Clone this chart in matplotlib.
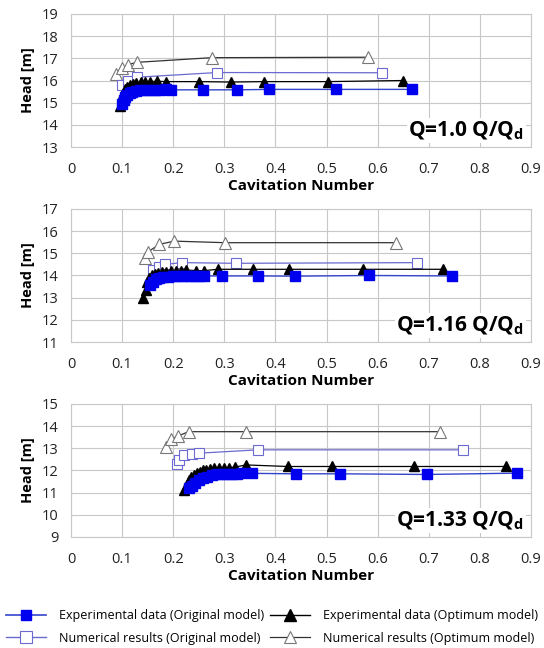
import matplotlib
matplotlib.use("Agg")
import matplotlib.pyplot as plt
from matplotlib.lines import Line2D

plt.rcParams['font.family'] = ['Open Sans', 'DejaVu Sans']
plt.rcParams['mathtext.default'] = 'regular'

# ---------------- data ----------------
panel_labels = ["Q=1.0 Q/Q$_{d}$", "Q=1.16 Q/Q$_{d}$", "Q=1.33 Q/Q$_{d}$"]
y_ranges = [(13, 19), (11, 17), (9, 15)]

# Q = 1.0
exp_orig_x_1 = [0.100, 0.103, 0.106, 0.110, 0.115, 0.120, 0.128, 0.135, 0.145, 0.155, 0.165, 0.175, 0.185, 0.195, 0.259, 0.325, 0.388, 0.518, 0.667]
exp_orig_y_1 = [14.95, 15.10, 15.25, 15.35, 15.42, 15.48, 15.52, 15.55, 15.57, 15.58, 15.58, 15.58, 15.60, 15.58, 15.58, 15.58, 15.60, 15.60, 15.60]
exp_opt_x_1 = [0.096, 0.099, 0.102, 0.106, 0.110, 0.115, 0.121, 0.128, 0.136, 0.145, 0.155, 0.168, 0.185, 0.250, 0.314, 0.377, 0.503, 0.649]
exp_opt_y_1 = [14.85, 15.15, 15.40, 15.60, 15.72, 15.80, 15.85, 15.90, 15.93, 15.95, 15.95, 15.97, 15.95, 15.95, 15.93, 15.95, 15.95, 16.00]
num_orig_x_1 = [0.099, 0.112, 0.130, 0.286, 0.608]
num_orig_y_1 = [15.80, 16.00, 16.15, 16.36, 16.35]
num_opt_x_1 = [0.089, 0.099, 0.112, 0.129, 0.275, 0.581]
num_opt_y_1 = [16.30, 16.55, 16.72, 16.82, 17.03, 17.05]

# Q = 1.16
exp_orig_x_2 = [0.155, 0.160, 0.166, 0.172, 0.180, 0.190, 0.200, 0.210, 0.220, 0.230, 0.240, 0.250, 0.260, 0.295, 0.366, 0.438, 0.583, 0.745]
exp_orig_y_2 = [13.58, 13.72, 13.82, 13.88, 13.92, 13.95, 13.97, 13.98, 13.98, 13.98, 13.98, 13.98, 13.98, 13.98, 13.98, 13.97, 14.00, 13.98]
exp_opt_x_2 = [0.141, 0.146, 0.149, 0.153, 0.158, 0.164, 0.170, 0.178, 0.186, 0.195, 0.205, 0.215, 0.225, 0.245, 0.261, 0.287, 0.357, 0.427, 0.571, 0.727]
exp_opt_y_2 = [12.98, 13.35, 13.70, 13.88, 14.00, 14.07, 14.12, 14.15, 14.18, 14.20, 14.22, 14.22, 14.25, 14.22, 14.22, 14.28, 14.28, 14.28, 14.28, 14.28]
num_orig_x_2 = [0.160, 0.172, 0.183, 0.217, 0.322, 0.676]
num_orig_y_2 = [14.25, 14.40, 14.50, 14.58, 14.55, 14.58]
num_opt_x_2 = [0.144, 0.150, 0.172, 0.202, 0.301, 0.636]
num_opt_y_2 = [14.80, 15.05, 15.40, 15.55, 15.48, 15.48]

# Q = 1.33
exp_orig_x_3 = [0.230, 0.237, 0.243, 0.250, 0.258, 0.266, 0.275, 0.285, 0.295, 0.305, 0.315, 0.325, 0.335, 0.354, 0.440, 0.527, 0.696, 0.873]
exp_orig_y_3 = [11.20, 11.28, 11.42, 11.55, 11.65, 11.72, 11.78, 11.82, 11.85, 11.85, 11.86, 11.86, 11.87, 11.87, 11.85, 11.85, 11.82, 11.88]
exp_opt_x_3 = [0.222, 0.226, 0.230, 0.235, 0.240, 0.246, 0.252, 0.258, 0.265, 0.272, 0.280, 0.290, 0.300, 0.310, 0.320, 0.342, 0.425, 0.510, 0.672, 0.852]
exp_opt_y_3 = [11.13, 11.35, 11.55, 11.70, 11.80, 11.88, 11.95, 12.00, 12.04, 12.07, 12.10, 12.10, 12.12, 12.12, 12.15, 12.25, 12.18, 12.18, 12.18, 12.18]
num_orig_x_3 = [0.207, 0.211, 0.222, 0.237, 0.250, 0.365, 0.766]
num_orig_y_3 = [12.30, 12.48, 12.68, 12.76, 12.78, 12.93, 12.93]
num_opt_x_3 = [0.186, 0.196, 0.209, 0.230, 0.342, 0.721]
num_opt_y_3 = [13.08, 13.40, 13.55, 13.75, 13.75, 13.75]

panels = [
    (exp_orig_x_1, exp_orig_y_1, exp_opt_x_1, exp_opt_y_1, num_orig_x_1, num_orig_y_1, num_opt_x_1, num_opt_y_1),
    (exp_orig_x_2, exp_orig_y_2, exp_opt_x_2, exp_opt_y_2, num_orig_x_2, num_orig_y_2, num_opt_x_2, num_opt_y_2),
    (exp_orig_x_3, exp_orig_y_3, exp_opt_x_3, exp_opt_y_3, num_orig_x_3, num_orig_y_3, num_opt_x_3, num_opt_y_3),
]

legend_labels = ["Experimental data (Original model)", "Experimental data (Optimum model)",
                 "Numerical results (Original model)", "Numerical results (Optimum model)"]

# ---------------- styles ----------------
BLUE = "#0000ee"
BLUE_LINE = "#3344cc"
NUM_BLUE = "#6a6ad0"
GRAY_TRI = "#777777"

fig = plt.figure(figsize=(5.44, 6.48), dpi=100)
axes_rects = [
    (0.1305, 0.7731, 0.8456, 0.2053),
    (0.1305, 0.4722, 0.8456, 0.2053),
    (0.1305, 0.1713, 0.8456, 0.2053),
]

for rect, data, (ylo, yhi), label in zip(axes_rects, panels, y_ranges, panel_labels):
    ax = fig.add_axes(rect)
    eox, eoy, epx, epy, nox, noy, npx, npy = data
    ax.plot(npx, npy, '-', color='#333333', lw=0.9, marker='^', ms=8,
            mfc='white', mec=GRAY_TRI, mew=0.8, zorder=3)
    ax.plot(nox, noy, '-', color=NUM_BLUE, lw=0.9, marker='s', ms=7,
            mfc='white', mec=NUM_BLUE, mew=0.8, zorder=3)
    ax.plot(epx, epy, '-', color='black', lw=0.9, marker='^', ms=7,
            mfc='black', mec='black', zorder=4)
    ax.plot(eox, eoy, '-', color=BLUE_LINE, lw=1.0, marker='s', ms=7,
            mfc=BLUE, mec=BLUE, zorder=5)

    ax.set_xlim(0, 0.9)
    ax.set_ylim(ylo, yhi)
    ax.set_xticks([i / 10 for i in range(10)])
    ax.set_xticklabels(["0"] + ["0.%d" % i for i in range(1, 10)])
    ax.set_yticks(range(ylo, yhi + 1))
    ax.grid(True, color='#c8c8c8', lw=0.8)
    ax.set_axisbelow(True)
    for s in ax.spines.values():
        s.set_color('#c8c8c8')
        s.set_linewidth(0.8)
    ax.tick_params(length=0, labelsize=10.5, colors='#222222')
    ax.tick_params(axis='x', pad=11)
    ax.tick_params(axis='y', pad=9)
    ax.set_xlabel("Cavitation Number", fontsize=11, fontweight='bold', labelpad=1)
    ax.set_ylabel("Head [m]", fontsize=10.5, fontweight='bold', labelpad=5)
    ax.text(0.985, 0.04, label, transform=ax.transAxes, ha='right', va='bottom',
            fontsize=15, fontweight='bold', color='black',
            bbox=dict(facecolor='white', edgecolor='none', pad=1))

h_exp_orig = Line2D([], [], color=BLUE_LINE, marker='s', ms=7, mfc=BLUE, mec=BLUE, lw=1.2)
h_exp_opt = Line2D([], [], color='black', marker='^', ms=8, mfc='black', mec='black', lw=1.0)
h_num_orig = Line2D([], [], color=NUM_BLUE, marker='s', ms=8, mfc='white', mec=NUM_BLUE, mew=0.8, lw=1.0)
h_num_opt = Line2D([], [], color='#333333', marker='^', ms=9, mfc='white', mec=GRAY_TRI, mew=0.8, lw=0.9)
# ncol=2 fills column-wise: column 1 = original model, column 2 = optimum model
handles = [h_exp_orig, h_num_orig, h_exp_opt, h_num_opt]
labels = [legend_labels[0], legend_labels[2], legend_labels[1], legend_labels[3]]
fig.legend(handles, labels, loc='lower center', bbox_to_anchor=(0.5, -0.012), ncol=2,
           frameon=False, fontsize=9, handlelength=3.2, columnspacing=0.5,
           handletextpad=1.0, labelspacing=0.75)

fig.savefig("out.png", dpi=100)
